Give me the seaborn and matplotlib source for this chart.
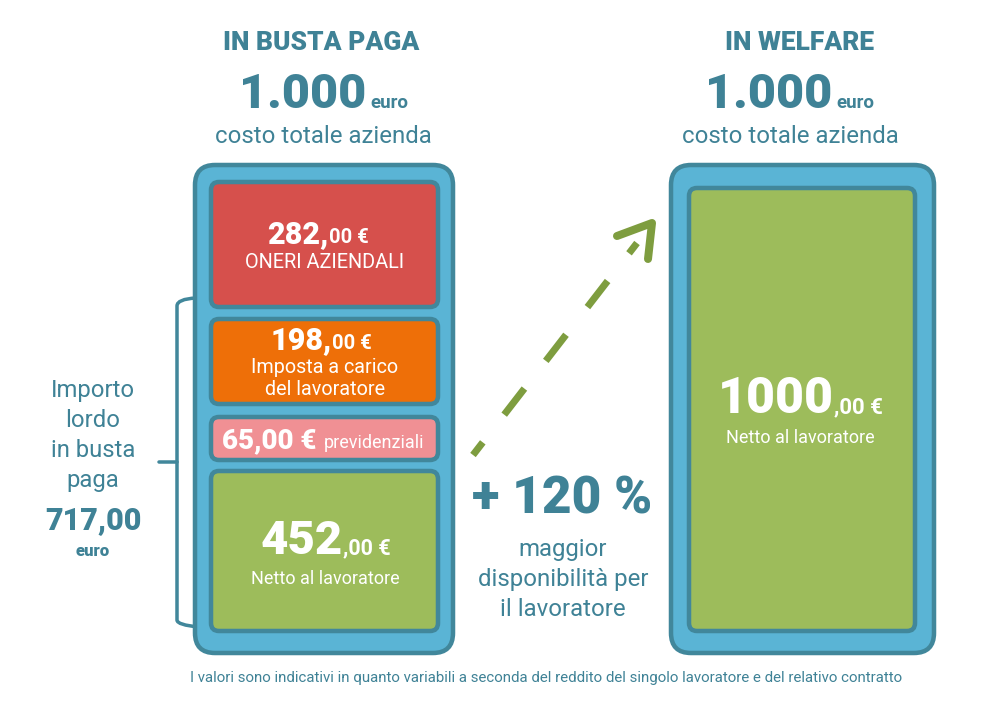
import matplotlib
matplotlib.use('Agg')
import matplotlib.pyplot as plt
import seaborn as sns
from matplotlib.lines import Line2D
from matplotlib.patches import FancyBboxPatch, PathPatch
from matplotlib.path import Path

# Values shown in the chart
column_titles = ['IN BUSTA PAGA', 'IN WELFARE']
column_totals = ['1.000', '1.000']
segment_values = [282, 198, 65, 452]
segment_colors = ['#D6504C', '#EE6F08', '#F09094', '#9DBC5B']
welfare_value = 1000
gross_label = ['Importo', 'lordo', 'in busta', 'paga']
gross_value = '717,00'
gain_label = ['maggior', 'disponibilità per', 'il lavoratore']
gain_value = '+ 120 %'
footnote = ('I valori sono indicativi in quanto variabili a seconda del reddito '
            'del singolo lavoratore e del relativo contratto')

# Layout in pixels, the segment boxes are not to scale in the original
segment_tops = [182, 319, 417, 471]
segment_heights = [125, 85, 43, 160]

TEAL = '#3F8296'
EDGE = '#41879B'
PANEL = '#5AB4D5'
OLIVE = '#7E9D3F'
PX = 0.72  # pixels to points at dpi 100

sns.set_theme(style='white')
plt.rcParams['font.family'] = ['Roboto', 'DejaVu Sans']

fig = plt.figure(figsize=(9.93, 7.21), dpi=100)
ax = fig.add_axes([0, 0, 1, 1])


def box(x0, x1, top, height, color, radius, lw, zorder):
    # seaborn draws the bar, then it gets swapped for a rounded one
    sns.barplot(x=[(x0 + x1) / 2], y=[height], bottom=[top], width=x1 - x0,
                native_scale=True, orient='x', color=color, ax=ax)
    bar = ax.patches[-1]
    bx, by, bw, bh = bar.get_x(), bar.get_y(), bar.get_width(), bar.get_height()
    bar.remove()
    ax.add_patch(FancyBboxPatch((bx, by), bw, bh,
                                boxstyle=f'round,pad=0,rounding_size={radius}',
                                facecolor=color, edgecolor=EDGE,
                                linewidth=lw * PX, zorder=zorder))


def runs(cx, y, parts, color='white'):
    # centered line of text with mixed sizes on one baseline
    renderer = fig.canvas.get_renderer()
    items = []
    total = 0
    for txt, size, weight in parts:
        t = ax.text(0, y, txt, fontsize=size, fontweight=weight, color=color,
                    va='baseline', ha='left', zorder=5)
        w = t.get_window_extent(renderer).width
        items.append((t, w))
        total += w
    x = cx - total / 2
    for t, w in items:
        t.set_x(x)
        x += w


def line(cx, y, txt, size, weight='normal', color=TEAL):
    ax.text(cx, y, txt, fontsize=size, fontweight=weight, color=color,
            ha='center', va='baseline', zorder=5)


# Panels
box(195, 453, 165, 488, PANEL, 20, 4.5, 2)
box(671, 934, 165, 488, PANEL, 20, 4.5, 2)

for top, height, color in zip(segment_tops, segment_heights, segment_colors):
    box(211, 438, top, height, color, 8, 4.5, 3)
box(689, 915, 188, 443, segment_colors[3], 8, 4.5, 3)

ax.set_xlim(0, 993)
ax.set_ylim(721, 0)
ax.axis('off')
fig.canvas.draw()

# Column headers
line(321, 50, column_titles[0], 19, 'black')
line(800, 50, column_titles[1], 19, 'black')
runs(324, 108, [(column_totals[0], 35, 'black'), (' ', 12, 'bold'), ('euro', 13.5, 'bold')], TEAL)
runs(790, 108, [(column_totals[1], 35, 'black'), (' ', 12, 'bold'), ('euro', 13.5, 'bold')], TEAL)
line(323, 143, 'costo totale azienda', 17.3)
line(790, 143, 'costo totale azienda', 17.3)

# Segment labels
runs(318, 243, [(f'{segment_values[0]},', 22, 'black'), ('00 €', 14.5, 'bold')])
line(325, 268, 'ONERI AZIENDALI', 14.3, color='white')
runs(321, 349, [(f'{segment_values[1]},', 22, 'black'), ('00 €', 14.5, 'bold')])
line(325, 373, 'Imposta a carico', 14.2, color='white')
line(325, 395, 'del lavoratore', 14.2, color='white')
runs(323, 448, [(f'{segment_values[2]},00 € ', 20, 'black'), ('previdenziali', 13, 'normal')])
runs(326, 554, [(f'{segment_values[3]}', 34, 'black'), (',00 €', 15.5, 'bold')])
line(325, 584, 'Netto al lavoratore', 13, color='white')
runs(800, 413, [(f'{welfare_value}', 36, 'black'), (',00 €', 16, 'bold')])
line(800, 443, 'Netto al lavoratore', 13, color='white')

# Left bracket
bracket = Path([(196, 298), (177, 299), (177, 306), (177, 620), (177, 625), (199, 627)],
               [Path.MOVETO, Path.CURVE3, Path.CURVE3, Path.LINETO, Path.CURVE3, Path.CURVE3])
ax.add_patch(PathPatch(bracket, fill=False, edgecolor=EDGE, linewidth=3.5 * PX, zorder=1))
ax.add_line(Line2D([159, 177], [462, 462], color=EDGE, linewidth=3.5 * PX, zorder=1))

for i, txt in enumerate(gross_label):
    line(93, 397 + i * 30, txt, 17.2)
line(93, 529, gross_value, 22, 'black')
line(93, 556, 'euro', 12, 'black')

# Dashed arrow
plt.rcParams['lines.scale_dashes'] = False
ax.add_line(Line2D([473, 637], [455, 243], color=OLIVE, linewidth=7 * PX,
                   linestyle=(17 * PX, (33 * PX, 35 * PX)), dash_capstyle='butt', zorder=2))
ax.add_line(Line2D([617, 652, 648], [236, 223, 259], color=OLIVE, linewidth=8 * PX,
                   solid_capstyle='round', solid_joinstyle='round', zorder=2))

# Gain text
line(562, 514, gain_value, 37, 'black')
for i, txt in enumerate(gain_label):
    line(563, 556 + i * 30, txt, 17.3)

line(546, 682, footnote, 10.8)

fig.savefig('out.png', dpi=100)
